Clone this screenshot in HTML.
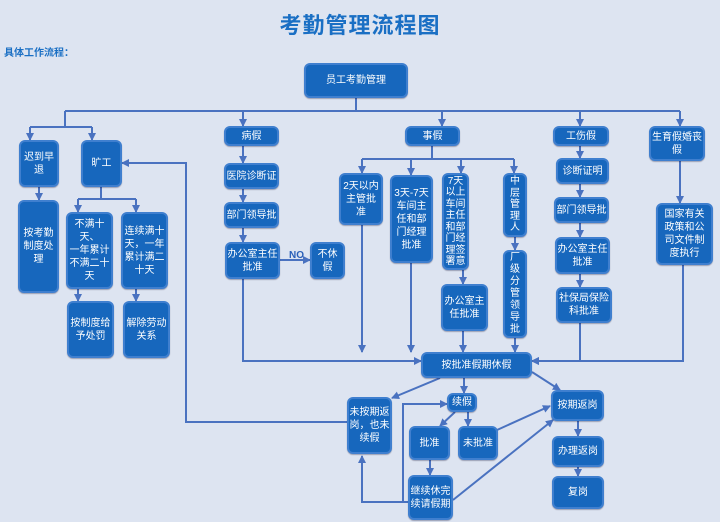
<!DOCTYPE html>
<html><head><meta charset="utf-8"><style>
body{margin:0;width:720px;height:522px;background:#dde4f1;position:relative;overflow:hidden;font-family:"Liberation Sans","Noto Sans CJK SC",sans-serif}
.b{position:absolute;box-sizing:border-box;background:#1767bd;border:2px solid #3f7fcf;border-radius:6px;color:#fff;font-size:10px;line-height:13px;display:flex;align-items:center;justify-content:center;text-align:center;box-shadow:0 1px 1px rgba(0,0,40,.3)}
svg{position:absolute;left:0;top:0}
</style></head><body>
<div style="position:absolute;left:0;width:720px;top:8px;text-align:center;font-size:22px;font-weight:bold;color:#1a6fc4;letter-spacing:1px">考勤管理流程图</div>
<div style="position:absolute;left:4px;top:44px;font-size:10px;font-weight:bold;color:#1a6fc4">具体工作流程：</div>
<svg width="720" height="522"><defs><marker id="a" markerWidth="8" markerHeight="8" refX="7" refY="4" orient="auto" markerUnits="userSpaceOnUse"><path d="M0,0L8,4L0,8z" fill="#4a72c0"/></marker></defs>
<g stroke="#4a72c0" stroke-width="2" fill="none">
<path d="M356,98V111M65,111H680"/>
<path d="M243,111V126" marker-end="url(#a)"/><path d="M442,111V126" marker-end="url(#a)"/><path d="M580,111V126" marker-end="url(#a)"/><path d="M680,111V126" marker-end="url(#a)"/>
<path d="M65,111V127M30,127H92"/><path d="M30,127V140" marker-end="url(#a)"/><path d="M92,127V140" marker-end="url(#a)"/>
<path d="M39,187V200" marker-end="url(#a)"/>
<path d="M101,187V199M78,199H136"/><path d="M78,199V212" marker-end="url(#a)"/><path d="M136,199V212" marker-end="url(#a)"/>
<path d="M78,289V301" marker-end="url(#a)"/><path d="M136,289V301" marker-end="url(#a)"/>
<path d="M347,422H186V163H122" marker-end="url(#a)"/>
<path d="M243,146V163" marker-end="url(#a)"/><path d="M243,189V202" marker-end="url(#a)"/><path d="M243,228V242" marker-end="url(#a)"/>
<path d="M280,260H310" marker-end="url(#a)"/>
<path d="M243,279V361H421" marker-end="url(#a)"/>
<path d="M432,146V159M362,159H514"/><path d="M362,159V173" marker-end="url(#a)"/><path d="M411,159V175" marker-end="url(#a)"/><path d="M461,159V173" marker-end="url(#a)"/><path d="M514,159V173" marker-end="url(#a)"/>
<path d="M362,225V352" marker-end="url(#a)"/><path d="M411,263V352" marker-end="url(#a)"/><path d="M463,270V284" marker-end="url(#a)"/><path d="M463,331V352" marker-end="url(#a)"/><path d="M515,237V250" marker-end="url(#a)"/><path d="M515,338V352" marker-end="url(#a)"/>
<path d="M580,146V158" marker-end="url(#a)"/><path d="M580,184V197" marker-end="url(#a)"/><path d="M580,223V237" marker-end="url(#a)"/><path d="M580,274V287" marker-end="url(#a)"/>
<path d="M580,323V361H532" marker-end="url(#a)"/><path d="M683,265V361H532" marker-end="url(#a)"/>
<path d="M680,161V203" marker-end="url(#a)"/>
<path d="M440,378L392,398" marker-end="url(#a)"/><path d="M464,378V393" marker-end="url(#a)"/><path d="M532,372L560,390" marker-end="url(#a)"/>
<path d="M455,412L440,426" marker-end="url(#a)"/><path d="M468,412V426" marker-end="url(#a)"/><path d="M497,430L550,406" marker-end="url(#a)"/>
<path d="M430,460V475" marker-end="url(#a)"/><path d="M453,500L553,420" marker-end="url(#a)"/>
<path d="M408,502H362V456" marker-end="url(#a)"/><path d="M403,502V404H447" marker-end="url(#a)"/>
<path d="M578,421V436" marker-end="url(#a)"/><path d="M578,467V476" marker-end="url(#a)"/>
</g>
<text x="289" y="258" font-size="10" font-weight="bold" fill="#2a5fb8" font-family="Liberation Sans,sans-serif">NO</text>
</svg>
<div class="b" style="left:304px;top:63px;width:104px;height:35px">员工考勤管理</div>
<div class="b" style="left:19px;top:140px;width:40px;height:47px">迟到早<br>退</div>
<div class="b" style="left:81px;top:140px;width:41px;height:47px">旷工</div>
<div class="b" style="left:18px;top:200px;width:41px;height:93px">按考勤<br>制度处<br>理</div>
<div class="b" style="left:66px;top:212px;width:47px;height:77px">不满十天、<br>一年累计<br>不满二十<br>天</div>
<div class="b" style="left:121px;top:212px;width:47px;height:77px">连续满十<br>天，一年<br>累计满二<br>十天</div>
<div class="b" style="left:67px;top:301px;width:47px;height:57px">按制度给<br>予处罚</div>
<div class="b" style="left:123px;top:301px;width:47px;height:57px">解除劳动<br>关系</div>
<div class="b" style="left:224px;top:126px;width:55px;height:20px">病假</div>
<div class="b" style="left:224px;top:163px;width:55px;height:26px">医院诊断证</div>
<div class="b" style="left:224px;top:202px;width:55px;height:26px">部门领导批</div>
<div class="b" style="left:225px;top:242px;width:55px;height:37px">办公室主任<br>批准</div>
<div class="b" style="left:310px;top:242px;width:35px;height:37px">不休<br>假</div>
<div class="b" style="left:405px;top:126px;width:55px;height:20px">事假</div>
<div class="b" style="left:339px;top:173px;width:44px;height:52px">2天以内<br>主管批<br>准</div>
<div class="b" style="left:390px;top:175px;width:43px;height:88px">3天-7天<br>车间主<br>任和部<br>门经理<br>批准</div>
<div class="b" style="left:442px;top:173px;width:27px;height:97px;line-height:11.5px">7天<br>以上<br>车间<br>主任<br>和部<br>门经<br>理签<br>署意</div>
<div class="b" style="left:503px;top:173px;width:24px;height:64px;line-height:11.5px">中<br>层<br>管<br>理<br>人</div>
<div class="b" style="left:503px;top:250px;width:24px;height:88px;line-height:12px">厂<br>级<br>分<br>管<br>领<br>导<br>批</div>
<div class="b" style="left:441px;top:284px;width:47px;height:47px">办公室主<br>任批准</div>
<div class="b" style="left:553px;top:126px;width:56px;height:20px">工伤假</div>
<div class="b" style="left:556px;top:158px;width:53px;height:26px">诊断证明</div>
<div class="b" style="left:554px;top:197px;width:55px;height:26px">部门领导批</div>
<div class="b" style="left:555px;top:237px;width:55px;height:37px">办公室主任<br>批准</div>
<div class="b" style="left:556px;top:287px;width:56px;height:36px">社保局保险<br>科批准</div>
<div class="b" style="left:649px;top:126px;width:56px;height:35px">生育假婚丧<br>假</div>
<div class="b" style="left:656px;top:203px;width:57px;height:62px">国家有关<br>政策和公<br>司文件制<br>度执行</div>
<div class="b" style="left:421px;top:352px;width:111px;height:26px">按批准假期休假</div>
<div class="b" style="left:347px;top:397px;width:45px;height:57px">未按期返<br>岗，也未<br>续假</div>
<div class="b" style="left:447px;top:393px;width:30px;height:19px">续假</div>
<div class="b" style="left:409px;top:426px;width:41px;height:34px">批准</div>
<div class="b" style="left:458px;top:426px;width:40px;height:34px">未批准</div>
<div class="b" style="left:408px;top:475px;width:45px;height:45px">继续休完<br>续请假期</div>
<div class="b" style="left:551px;top:390px;width:53px;height:31px">按期返岗</div>
<div class="b" style="left:552px;top:436px;width:52px;height:31px">办理返岗</div>
<div class="b" style="left:552px;top:476px;width:52px;height:33px">复岗</div>
</body></html>
